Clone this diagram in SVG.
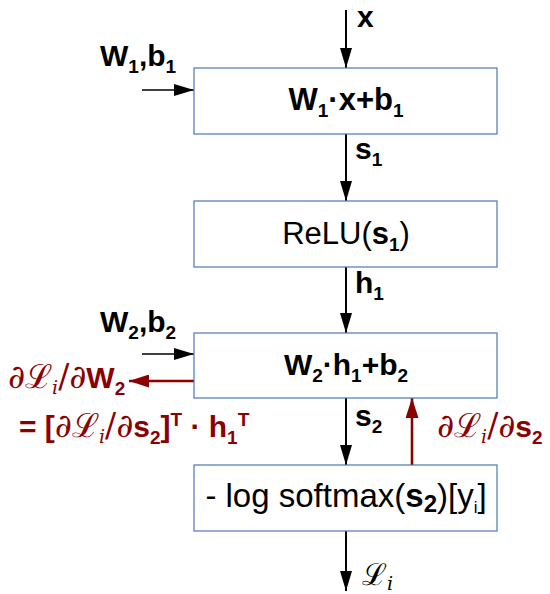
<svg xmlns="http://www.w3.org/2000/svg" width="550" height="594" viewBox="0 0 550 594">
  <style>
    .box { fill: #ffffff; stroke: #4a78b8; stroke-width: 1.2; }
    .t { font-family: "Liberation Sans", Arial, sans-serif; fill: #000; font-size: 30px; }
    .b { font-weight: bold; }
    .sub { font-size: 19px; }
    .red { fill: #8b0000; }
    .math { font-family: "DejaVu Serif", "Liberation Serif", serif; font-weight: normal; font-size: 33px; }
    .mi { font-family: "DejaVu Serif", "Liberation Serif", serif; font-weight: normal; font-style: italic; font-size: 19px; }
    .flow { stroke: #000; stroke-width: 2; fill: none; }
    .side { stroke: #000; stroke-width: 1.3; fill: none; }
    .grad { stroke: #8b0000; stroke-width: 2.6; fill: none; }
  </style>
  <defs>
    <marker id="ah" viewBox="0 0 20 12" refX="20" refY="6" markerUnits="userSpaceOnUse" markerWidth="20" markerHeight="12" orient="auto">
      <path d="M0,0 L20,6 L0,12 z" fill="#000"/>
    </marker>
    <marker id="ahr" viewBox="0 0 20 13" refX="20" refY="6.5" markerUnits="userSpaceOnUse" markerWidth="20" markerHeight="13" orient="auto">
      <path d="M0,0 L20,6.5 L0,13 z" fill="#8b0000"/>
    </marker>
  </defs>

  <g id="connectors">
    <line class="flow" x1="346" y1="10" x2="346" y2="68" marker-end="url(#ah)"/>
    <line class="side" x1="142" y1="90" x2="194" y2="90" marker-end="url(#ah)"/>
    <line class="flow" x1="346" y1="134" x2="346" y2="201" marker-end="url(#ah)"/>
    <line class="flow" x1="346" y1="267" x2="346" y2="333" marker-end="url(#ah)"/>
    <line class="side" x1="142" y1="354" x2="194" y2="354" marker-end="url(#ah)"/>
    <line class="flow" x1="346" y1="398" x2="346" y2="465" marker-end="url(#ah)"/>
    <line class="flow" x1="346" y1="531" x2="346" y2="591" marker-end="url(#ah)"/>
    <line class="grad" x1="194" y1="381" x2="129" y2="381" marker-end="url(#ahr)"/>
    <line class="grad" x1="412" y1="465" x2="412" y2="398" marker-end="url(#ahr)"/>
  </g>

  <g id="edge-labels">
    <text class="t b" x="357" y="27">x</text>
    <text class="t b" x="100" y="66">W<tspan class="sub" dy="7">1</tspan><tspan dy="-7">,b</tspan><tspan class="sub" dy="7">1</tspan></text>
    <text class="t b" x="355" y="159">s<tspan class="sub" dy="7">1</tspan></text>
    <text class="t b" x="355" y="293">h<tspan class="sub" dy="7">1</tspan></text>
    <text class="t b" x="100" y="332">W<tspan class="sub" dy="7">2</tspan><tspan dy="-7">,b</tspan><tspan class="sub" dy="7">2</tspan></text>
    <text class="t b" x="355" y="426">s<tspan class="sub" dy="7">2</tspan></text>
    <text class="t b red" x="8" y="388"><tspan class="math">∂ℒ</tspan><tspan class="mi" dy="6">i</tspan><tspan class="math" dy="-6">/∂</tspan>W<tspan class="sub" dy="7">2</tspan></text>
    <text class="t b red" x="19" y="437">= [<tspan class="math">∂ℒ</tspan><tspan class="mi" dy="6">i</tspan><tspan class="math" dy="-6">/∂</tspan>s<tspan class="sub" dy="7">2</tspan><tspan dy="-7">]</tspan><tspan class="sub" dy="-11">T</tspan><tspan dy="11"> · h</tspan><tspan class="sub" dy="7">1</tspan><tspan class="sub" dy="-18">T</tspan></text>
    <text class="t b red" x="437" y="437"><tspan class="math">∂ℒ</tspan><tspan class="mi" dy="6">i</tspan><tspan class="math" dy="-6">/∂</tspan>s<tspan class="sub" dy="7">2</tspan></text>
    <text class="t" x="362" y="585"><tspan class="math" style="font-size:30px">ℒ</tspan><tspan class="mi" dy="5">i</tspan></text>
  </g>

  <g id="node-affine1">
    <rect class="box" x="194" y="68" width="303" height="66"/>
    <text class="t b" x="346" y="110" style="font-size:31px" text-anchor="middle">W<tspan class="sub" dy="7">1</tspan><tspan dy="-7">·x+b</tspan><tspan class="sub" dy="7">1</tspan></text>
  </g>

  <g id="node-relu">
    <rect class="box" x="194" y="201" width="303" height="66"/>
    <text class="t" x="346" y="244" style="font-size:31px" text-anchor="middle">ReLU(<tspan class="b">s</tspan><tspan class="b sub" dy="7">1</tspan><tspan dy="-7">)</tspan></text>
  </g>

  <g id="node-affine2">
    <rect class="box" x="194" y="333" width="303" height="65"/>
    <text class="t b" x="346" y="375" text-anchor="middle">W<tspan class="sub" dy="7">2</tspan><tspan dy="-7">·h</tspan><tspan class="sub" dy="7">1</tspan><tspan dy="-7">+b</tspan><tspan class="sub" dy="7">2</tspan></text>
  </g>

  <g id="node-loss">
    <rect class="box" x="194" y="465" width="303" height="66"/>
    <text class="t" x="346" y="507" style="font-size:33px" text-anchor="middle">- log softmax(<tspan class="b">s</tspan><tspan class="b" style="font-size:24px" dy="5">2</tspan><tspan dy="-5">)[y</tspan><tspan style="font-size:17px" dy="6">i</tspan><tspan dy="-6">]</tspan></text>
  </g>
</svg>
